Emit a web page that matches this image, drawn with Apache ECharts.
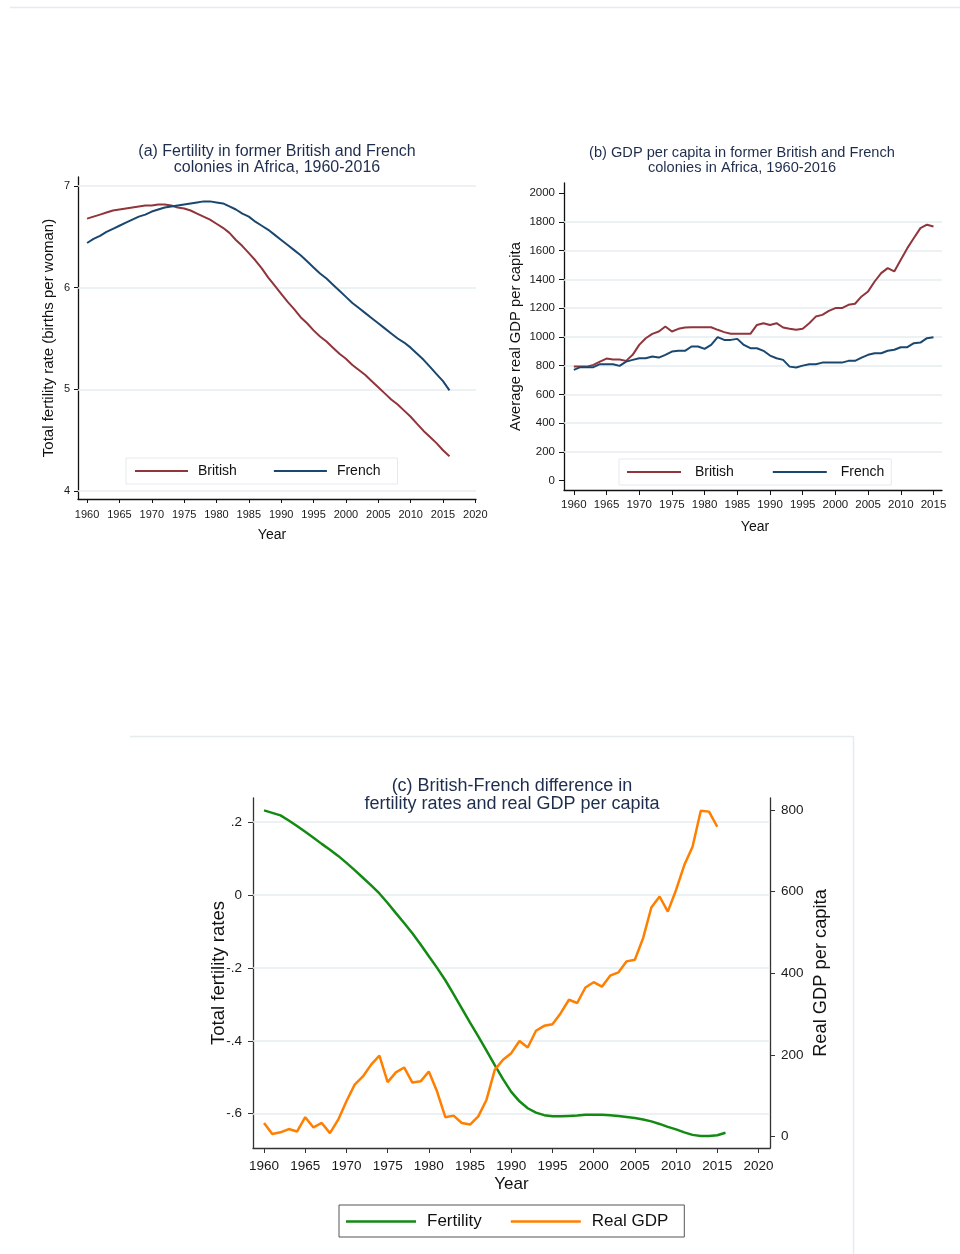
<!DOCTYPE html>
<html>
<head>
<meta charset="utf-8">
<script src="https://cdn.jsdelivr.net/npm/echarts@6/dist/echarts.min.js"></script>
<style>
html, body { margin: 0; padding: 0; background: #fff; }
#main { width: 960px; height: 1254px; }
</style>
</head>
<body>
<div id="main"></div>
<script>
// years 1960-2016
var years = [1960, 1961, 1962, 1963, 1964, 1965, 1966, 1967, 1968, 1969,
    1970, 1971, 1972, 1973, 1974, 1975, 1976, 1977, 1978, 1979,
    1980, 1981, 1982, 1983, 1984, 1985, 1986, 1987, 1988, 1989,
    1990, 1991, 1992, 1993, 1994, 1995, 1996, 1997, 1998, 1999,
    2000, 2001, 2002, 2003, 2004, 2005, 2006, 2007, 2008, 2009,
    2010, 2011, 2012, 2013, 2014, 2015, 2016];

// (a) fertility, 1960-2016
var fertBritish = [6.68, 6.70, 6.72, 6.74, 6.76, 6.77, 6.78, 6.79, 6.80, 6.81,
    6.81, 6.82, 6.82, 6.81, 6.79, 6.78, 6.76, 6.73, 6.70, 6.67,
    6.63, 6.59, 6.54, 6.47, 6.41, 6.34, 6.27, 6.19, 6.10, 6.02,
    5.94, 5.86, 5.79, 5.71, 5.65, 5.58, 5.52, 5.47, 5.41, 5.35,
    5.30, 5.24, 5.19, 5.14, 5.08, 5.02, 4.96, 4.90, 4.85, 4.79,
    4.73, 4.66, 4.59, 4.53, 4.47, 4.40, 4.34];
var fertFrench = [6.44, 6.48, 6.51, 6.55, 6.58, 6.61, 6.64, 6.67, 6.70, 6.72,
    6.75, 6.77, 6.79, 6.80, 6.81, 6.82, 6.83, 6.84, 6.85, 6.85,
    6.84, 6.83, 6.80, 6.77, 6.73, 6.70, 6.65, 6.61, 6.57, 6.52,
    6.47, 6.42, 6.37, 6.32, 6.26, 6.20, 6.14, 6.09, 6.03, 5.97,
    5.91, 5.85, 5.80, 5.75, 5.70, 5.65, 5.60, 5.55, 5.50, 5.46,
    5.41, 5.35, 5.29, 5.22, 5.15, 5.08, 4.99];

// (b) gdp per capita, 1960-2015
var gdpBritish = [793, 793, 793, 805, 828, 849, 842, 842, 833, 875,
    944, 990, 1021, 1037, 1072, 1037, 1056, 1065, 1067, 1067,
    1067, 1067, 1049, 1033, 1021, 1021, 1021, 1021, 1083, 1095,
    1083, 1095, 1065, 1056, 1049, 1056, 1095, 1141, 1153, 1181,
    1200, 1200, 1223, 1230, 1281, 1316, 1385, 1443, 1478, 1455,
    1536, 1617, 1687, 1756, 1780, 1768];
var gdpFrench = [770, 789, 789, 789, 810, 810, 810, 798, 828, 840,
    851, 851, 863, 856, 875, 898, 903, 903, 933, 933,
    916, 944, 998, 979, 979, 986, 944, 921, 921, 903,
    870, 851, 840, 793, 787, 800, 810, 810, 821, 821,
    821, 821, 833, 833, 856, 875, 886, 886, 903, 910,
    928, 928, 956, 960, 991, 998];

// (c) british - french difference
var diffFertility = [0.232, 0.225, 0.218, 0.204, 0.189, 0.173, 0.157, 0.140, 0.124, 0.107,
    0.088, 0.068, 0.047, 0.026, 0.004, -0.022, -0.050, -0.077, -0.105, -0.136,
    -0.168, -0.200, -0.234, -0.272, -0.311, -0.350, -0.388, -0.427, -0.467, -0.505,
    -0.540, -0.566, -0.585, -0.597, -0.604, -0.607, -0.607, -0.606, -0.605, -0.603,
    -0.603, -0.603, -0.604, -0.606, -0.609, -0.612, -0.616, -0.621, -0.628, -0.636,
    -0.643, -0.651, -0.658, -0.661, -0.661, -0.659, -0.652];
var diffGdp = [33, 6, 10, 18, 12, 47, 22, 33, 8, 41,
    86, 127, 147, 176, 198, 133, 157, 169, 132, 135,
    159, 110, 47, 51, 33, 29, 49, 90, 163, 188,
    204, 234, 218, 259, 271, 275, 302, 335, 327, 365,
    378, 367, 394, 402, 429, 433, 486, 561, 588, 551,
    604, 665, 710, 798, 796, 759];

// tick values / labels
var yearTicksA = [1960, 1965, 1970, 1975, 1980, 1985, 1990, 1995, 2000, 2005, 2010, 2015, 2020];
var yearTicksB = [1960, 1965, 1970, 1975, 1980, 1985, 1990, 1995, 2000, 2005, 2010, 2015];
var fertTicks = [4, 5, 6, 7];
var gdpTicks = [0, 200, 400, 600, 800, 1000, 1200, 1400, 1600, 1800, 2000];
var gdpGridTicks = [200, 400, 600, 800, 1000, 1200, 1400, 1600, 1800];
var diffFertTicks = [0.2, 0, -0.2, -0.4, -0.6];
var diffFertLabels = ['.2', '0', '-.2', '-.4', '-.6'];
var diffGdpTicks = [0, 200, 400, 600, 800];

var FONT = '"Liberation Sans", Arial, sans-serif';
var colBritish = '#90353b';
var colFrench = '#1a476f';
var colGreen = '#138a13';
var colOrange = '#ff7f00';
var gridColor = '#e6eef1';
var titleColor = '#1f2d4d';

function pairs(xs, ys) {
    var out = [];
    for (var i = 0; i < ys.length; i++) {
        out.push([xs[i], ys[i]]);
    }
    return out;
}

// horizontal grid lines, drawn under the data
function gridLines(xi, yi, vals) {
    return {
        type: 'line', xAxisIndex: xi, yAxisIndex: yi, data: [], silent: true, z: 1,
        markLine: {
            silent: true, symbol: ['none', 'none'], animation: false, z: 1,
            label: { show: false },
            lineStyle: { color: gridColor, width: 1.5, type: 'solid' },
            emphasis: { disabled: true },
            data: vals.map(function (v) { return { yAxis: v }; })
        }
    };
}

function valAxis(o) {
    var fs = o.fontSize || 11;
    return {
        type: 'value', gridIndex: o.grid, position: o.position, min: o.min, max: o.max,
        axisLine: { show: true, onZero: false, lineStyle: { color: o.lineColor || '#111', width: 1.3 } },
        axisTick: { show: true, customValues: o.ticks, length: o.tickLen || 4, lineStyle: { color: o.lineColor || '#111', width: 1 } },
        axisLabel: {
            customValues: o.ticks, fontSize: fs, color: '#1a1a1a', margin: o.margin, fontFamily: FONT,
            formatter: o.formatter || function (v) { return String(v); }
        },
        splitLine: { show: false },
        name: o.name, nameLocation: 'middle', nameGap: o.nameGap, nameRotate: o.nameRotate,
        nameMoveOverlap: false,
        nameTextStyle: { fontSize: o.nameSize || 13, color: '#111', fontFamily: FONT, padding: o.namePad || 0 }
    };
}

var myChart = echarts.init(document.getElementById('main'), null, { renderer: 'canvas' });

var option = {
    backgroundColor: '#fff',
    animation: false,
    textStyle: { fontFamily: FONT },
    graphic: [
        { type: 'line', shape: { x1: 10, y1: 7.5, x2: 960, y2: 7.5 }, style: { stroke: '#e4ecee', lineWidth: 1.5 } },
        { type: 'line', shape: { x1: 130, y1: 736.5, x2: 853, y2: 736.5 }, style: { stroke: '#e4ecee', lineWidth: 1.5 } },
        { type: 'line', shape: { x1: 853.5, y1: 736, x2: 853.5, y2: 1254 }, style: { stroke: '#e4ecee', lineWidth: 1.5 } }
    ],
    title: [
        {
            text: '(a) Fertility in former British and French\ncolonies in Africa, 1960-2016',
            left: 277, top: 144, textAlign: 'center', padding: 0,
            textStyle: { fontSize: 16, fontWeight: 'normal', color: titleColor, lineHeight: 16, fontFamily: FONT }
        },
        {
            text: '(b) GDP per capita in former British and French\ncolonies in Africa, 1960-2016',
            left: 742, top: 145.5, textAlign: 'center', padding: 0,
            textStyle: { fontSize: 14.6, fontWeight: 'normal', color: titleColor, lineHeight: 15, fontFamily: FONT }
        },
        {
            text: '(c) British-French difference in\nfertility rates and real GDP per capita',
            left: 512, top: 777, textAlign: 'center', padding: 0,
            textStyle: { fontSize: 18, fontWeight: 'normal', color: titleColor, lineHeight: 18, fontFamily: FONT }
        }
    ],
    legend: [
        {
            data: ['British', 'French'], left: 126, top: 458, orient: 'horizontal',
            icon: 'rect', itemWidth: 53, itemHeight: 2, itemGap: 37,
            padding: [6, 17, 6, 9], backgroundColor: '#fff', borderColor: '#e3ebee', borderWidth: 1,
            textStyle: { fontSize: 14, color: '#111', padding: [0, 0, 0, 5] }
        },
        {
            data: ['British ', 'French '], left: 619, top: 459, orient: 'horizontal',
            icon: 'rect', itemWidth: 54, itemHeight: 2, itemGap: 35,
            padding: [6, 3, 6, 8], backgroundColor: '#fff', borderColor: '#e3ebee', borderWidth: 1,
            textStyle: { fontSize: 14, color: '#111', padding: [0, 0, 0, 9] }
        },
        {
            data: ['Fertility', 'Real GDP'], left: 339, top: 1205, orient: 'horizontal',
            icon: 'rect', itemWidth: 70, itemHeight: 2.5, itemGap: 29,
            padding: [8, 16, 7, 7], backgroundColor: '#fff', borderColor: '#555', borderWidth: 1,
            textStyle: { fontSize: 17, color: '#111', padding: [0, 0, 0, 6] }
        }
    ],
    grid: [
        { left: 78, top: 177, width: 398, height: 322 },
        { left: 564, top: 183, width: 378, height: 307 },
        { left: 253, top: 798, width: 517, height: 350 }
    ],
    xAxis: [
        valAxis({ grid: 0, min: 1958.6, max: 2020.1, ticks: yearTicksA, margin: 10, fontSize: 11,
            name: 'Year', nameGap: 29, nameSize: 14, namePad: [0, 10, 0, 0] }),
        valAxis({ grid: 1, min: 1958.5, max: 2016.3, ticks: yearTicksB, margin: 9, fontSize: 11.5, tickLen: 5,
            name: 'Year', nameGap: 30, nameSize: 14, namePad: [0, 0, 0, 4] }),
        valAxis({ grid: 2, min: 1958.66, max: 2021.4, ticks: yearTicksA, margin: 11, fontSize: 13.5, tickLen: 5,
            lineColor: '#333', name: 'Year', nameGap: 28, nameSize: 17 })
    ],
    yAxis: [
        valAxis({ grid: 0, min: 3.92, max: 7.09, ticks: fertTicks, margin: 8, fontSize: 11,
            name: 'Total fertility rate (births per woman)', nameGap: 22, nameSize: 15, nameRotate: 90 }),
        valAxis({ grid: 1, min: -65, max: 2070, ticks: gdpTicks, margin: 9, fontSize: 11.5, tickLen: 5,
            name: 'Average real GDP per capita', nameGap: 41, nameSize: 14.8, nameRotate: 90 }),
        valAxis({ grid: 2, min: -0.694, max: 0.2658, ticks: diffFertTicks, margin: 11, fontSize: 13.5, tickLen: 5,
            lineColor: '#333', name: 'Total fertility rates', nameGap: 25, nameSize: 18.5, nameRotate: 90,
            formatter: function (v) { return diffFertLabels[diffFertTicks.indexOf(Math.round(v * 10) / 10)]; } }),
        valAxis({ grid: 2, position: 'right', min: -28.4, max: 829.4, ticks: diffGdpTicks, margin: 11, fontSize: 13.5, tickLen: 5,
            lineColor: '#333', name: 'Real GDP per capita', nameGap: 42, nameSize: 18.3, nameRotate: 90 })
    ],
    series: [
        gridLines(0, 0, fertTicks),
        gridLines(1, 1, gdpGridTicks),
        gridLines(2, 2, diffFertTicks),
        {
            name: 'British', type: 'line', xAxisIndex: 0, yAxisIndex: 0, z: 10,
            data: pairs(years, fertBritish), showSymbol: false, symbol: 'none',
            lineStyle: { color: colBritish, width: 2 }, itemStyle: { color: colBritish }
        },
        {
            name: 'French', type: 'line', xAxisIndex: 0, yAxisIndex: 0, z: 10,
            data: pairs(years, fertFrench), showSymbol: false, symbol: 'none',
            lineStyle: { color: colFrench, width: 2 }, itemStyle: { color: colFrench }
        },
        {
            name: 'British ', type: 'line', xAxisIndex: 1, yAxisIndex: 1, z: 10,
            data: pairs(years, gdpBritish), showSymbol: false, symbol: 'none',
            lineStyle: { color: colBritish, width: 2 }, itemStyle: { color: colBritish }
        },
        {
            name: 'French ', type: 'line', xAxisIndex: 1, yAxisIndex: 1, z: 10,
            data: pairs(years, gdpFrench), showSymbol: false, symbol: 'none',
            lineStyle: { color: colFrench, width: 2 }, itemStyle: { color: colFrench }
        },
        {
            name: 'Fertility', type: 'line', xAxisIndex: 2, yAxisIndex: 2, z: 10,
            data: pairs(years, diffFertility), showSymbol: false, symbol: 'none',
            lineStyle: { color: colGreen, width: 2.5 }, itemStyle: { color: colGreen }
        },
        {
            name: 'Real GDP', type: 'line', xAxisIndex: 2, yAxisIndex: 3, z: 10,
            data: pairs(years, diffGdp), showSymbol: false, symbol: 'none',
            lineStyle: { color: colOrange, width: 2.5 }, itemStyle: { color: colOrange }
        }
    ]
};

myChart.setOption(option);
</script>
</body>
</html>
